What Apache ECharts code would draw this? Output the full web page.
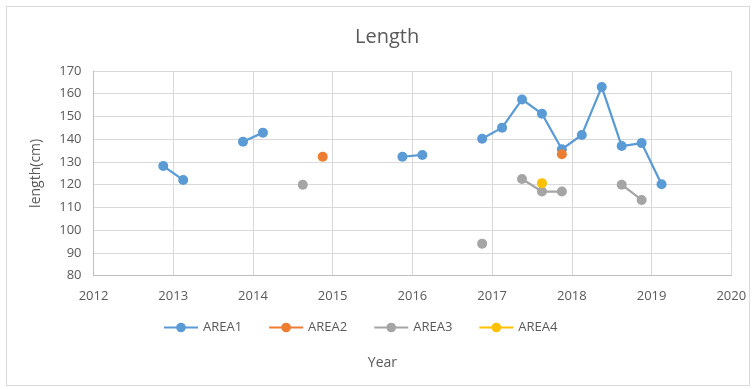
<!DOCTYPE html>
<html>
<head>
<meta charset="utf-8">
<script src="https://cdn.jsdelivr.net/npm/echarts@6/dist/echarts.min.js"></script>
<style>
  html, body { margin: 0; padding: 0; background: #fff; }
  #frame { position: absolute; left: 6px; top: 6px; width: 744px; height: 380px; border: 1px solid #d9d9d9; box-sizing: border-box; }
  #chart { width: 754px; height: 389px; position: absolute; left: 0; top: 0; }
</style>
</head>
<body>
<div id="frame"></div>
<div id="chart"></div>
<script>
// Measurements by area: [year (decimal), length in cm]; null breaks the line
const area1 = [
  [2012.875, 128.2], [2013.125, 122.1], [2013.5, null],
  [2013.875, 138.9], [2014.125, 142.9], [2015.0, null],
  [2015.875, 132.3], [2016.125, 133.1], [2016.5, null],
  [2016.875, 140.2], [2017.125, 145.1], [2017.375, 157.5], [2017.625, 151.2],
  [2017.875, 135.6], [2018.125, 141.9], [2018.375, 163.0], [2018.625, 137.0],
  [2018.875, 138.3], [2019.125, 120.2]
];
const area2 = [
  [2014.875, 132.3], [2016.0, null],
  [2017.875, 133.4]
];
const area3 = [
  [2014.625, 120.0], [2015.5, null],
  [2016.875, 94.1], [2017.125, null],
  [2017.375, 122.5], [2017.625, 117.0], [2017.875, 117.0], [2018.25, null],
  [2018.625, 120.0], [2018.875, 113.3]
];
const area4 = [
  [2017.625, 120.7]
];

const seriesNames = ['AREA1', 'AREA2', 'AREA3', 'AREA4'];
const seriesData = [area1, area2, area3, area4];
const seriesColors = ['#5B9BD5', '#ED7D31', '#A5A5A5', '#FFC000'];

const textColor = '#595959';
const fontFamily = 'Open Sans, Liberation Sans, sans-serif';

const chart = echarts.init(document.getElementById('chart'), null, { renderer: 'canvas' });

chart.setOption({
  backgroundColor: 'transparent',
  animation: false,
  textStyle: { fontFamily: fontFamily },
  title: {
    text: 'Length',
    left: 350,
    top: 22,
    textStyle: { color: textColor, fontSize: 20, fontWeight: 'normal', fontFamily: fontFamily }
  },
  legend: {
    data: seriesNames,
    left: 163,
    top: 321,
    padding: 0,
    itemWidth: 34,
    itemHeight: 12,
    itemGap: 26,
    textStyle: { color: textColor, fontSize: 13, fontFamily: fontFamily }
  },
  grid: { left: 93.5, right: 22.7, top: 71, bottom: 113.3, containLabel: false },
  xAxis: {
    type: 'value',
    min: 2012,
    max: 2020,
    interval: 1,
    name: 'Year',
    nameLocation: 'middle',
    nameGap: 80,
    nameTextStyle: { color: textColor, fontSize: 14, fontFamily: fontFamily, padding: [0, 60, 0, 0] },
    axisLine: { show: true, lineStyle: { color: '#bfbfbf', width: 1 } },
    axisTick: { show: false },
    splitLine: { show: true, lineStyle: { color: '#d9d9d9', width: 1 } },
    axisLabel: { color: textColor, fontSize: 13, margin: 14, fontFamily: fontFamily,
      formatter: v => String(v) }
  },
  yAxis: {
    type: 'value',
    min: 80,
    max: 170,
    interval: 10,
    name: 'length(cm)',
    nameLocation: 'middle',
    nameRotate: 90,
    nameGap: 50,
    nameTextStyle: { color: textColor, fontSize: 14, fontFamily: fontFamily },
    axisLine: { show: true, lineStyle: { color: '#bfbfbf', width: 1 } },
    axisTick: { show: false },
    splitLine: { show: true, lineStyle: { color: '#d9d9d9', width: 1 } },
    axisLabel: { color: textColor, fontSize: 13, margin: 12, fontFamily: fontFamily }
  },
  series: seriesNames.map((name, i) => ({
    name: name,
    type: 'line',
    data: seriesData[i],
    connectNulls: false,
    symbol: 'circle',
    symbolSize: 10,
    showSymbol: true,
    itemStyle: { color: seriesColors[i] },
    lineStyle: { color: seriesColors[i], width: 2.25 },
    z: 2 + i
  }))
});
</script>
</body>
</html>
